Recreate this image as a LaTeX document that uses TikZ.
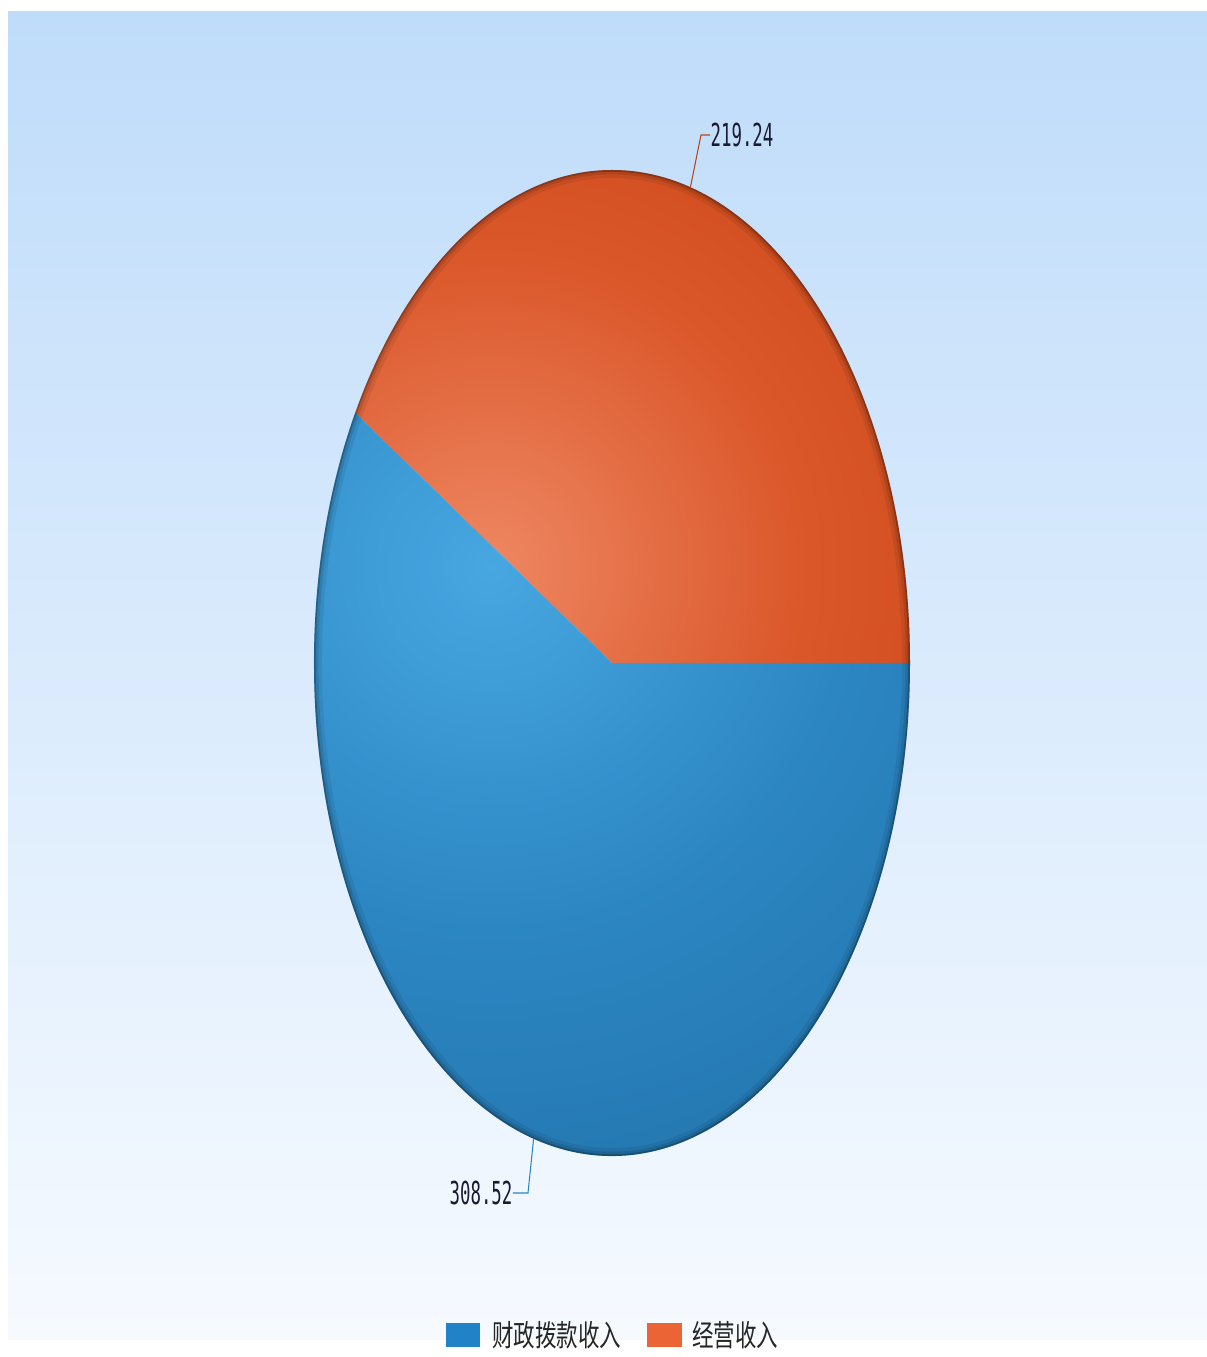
\documentclass[tikz,border=0pt]{standalone}
\usepackage{fontspec}
\usetikzlibrary{calc}
\newfontfamily\numfont[FakeStretch=0.55]{DejaVu Sans Mono}
\newfontfamily\cjkfont[FakeStretch=0.72]{Noto Sans CJK SC}

\definecolor{bgtop}{HTML}{BFDCFA}
\definecolor{bgbottom}{HTML}{F6FAFF}
\definecolor{bluehi}{HTML}{47A7E1}
\definecolor{bluemid}{HTML}{2C86C2}
\definecolor{bluedark}{HTML}{1E6DA4}
\definecolor{orghi}{HTML}{EE8762}
\definecolor{orgmid}{HTML}{DB582B}
\definecolor{orgdark}{HTML}{C43F0E}
\definecolor{bluekey}{HTML}{2282C8}
\definecolor{orgkey}{HTML}{EA6436}
\definecolor{numtext}{HTML}{1A1A33}

\pgfdeclareradialshading{bluelit}{\pgfpoint{0bp}{0bp}}{color(0bp)=(bluehi); color(13bp)=(bluemid); color(30bp)=(bluedark); color(50bp)=(bluedark)}
\pgfdeclareradialshading{orglit}{\pgfpoint{0bp}{0bp}}{color(0bp)=(orghi); color(11bp)=(orgmid); color(25bp)=(orgdark); color(50bp)=(orgdark)}

\tikzset{
  valuelabel/.style={font=\numfont\fontsize{18}{18}\selectfont, text=numtext, inner sep=0pt},
  legendtext/.style={font=\cjkfont\fontsize{17}{17}\selectfont, text=black!85, inner sep=0pt, anchor=west},
  legendkey/.style={minimum width=0.7cm, minimum height=0.5cm, inner sep=0pt},
  leader/.style={line width=0.6pt},
  pieradii/.style={x radius=298, y radius=493}
}

\begin{document}
\begin{tikzpicture}[x=0.02cm,y=0.02cm]
  \useasboundingbox (0,0) rectangle (1207,1357);

% background
  \shade[top color=bgtop, bottom color=bgbottom] (8,17) rectangle (1207,1345);

% pie slices
  \coordinate (pie) at (612,694);
  \coordinate (light) at (490,790);
  \foreach \from/\to/\shd in {0/149.5/orglit,149.5/360/bluelit}{
    \begin{scope}
      \clip (pie) -- ++(\from:298 and 493) arc[start angle=\from, end angle=\to, pieradii] -- cycle;
      \shade[shading=\shd] (light) circle (700);
    \end{scope}
  }

% dark rim
  \begin{scope}
    \clip (pie) ellipse [pieradii];
    \foreach \w/\o in {9/0.07,5/0.10,2/0.22}{
      \draw[black, opacity=\o, line width=\w pt] (pie) ellipse [pieradii];
    }
  \end{scope}

% value labels
  \coordinate (orgmid) at ($(pie)+(74.75:298 and 493)$);
  \coordinate (orgbend) at (701,1222);
  \node[valuelabel] (orgval) at (742,1222) {219.24};
  \draw[leader, color=orgmid!80!black] (orgmid) -- (orgbend) -- (orgval.west);

  \coordinate (bluemid) at ($(pie)+(254.75:298 and 493)$);
  \coordinate (bluebend) at (528,164);
  \node[valuelabel] (blueval) at (481,164) {308.52};
  \draw[leader, color=bluemid] (bluemid) -- (bluebend) -- (blueval.east);

% legend
  \node[legendkey, fill=bluekey] (bluekey) at (463,22) {};
  \node[legendtext] (bluetext) at (492,22) {财政拨款收入};
  \node[legendkey, fill=orgkey] (orgkey) at (664,22) {};
  \node[legendtext] (orgtext) at (692,22) {经营收入};

\end{tikzpicture}
\end{document}
